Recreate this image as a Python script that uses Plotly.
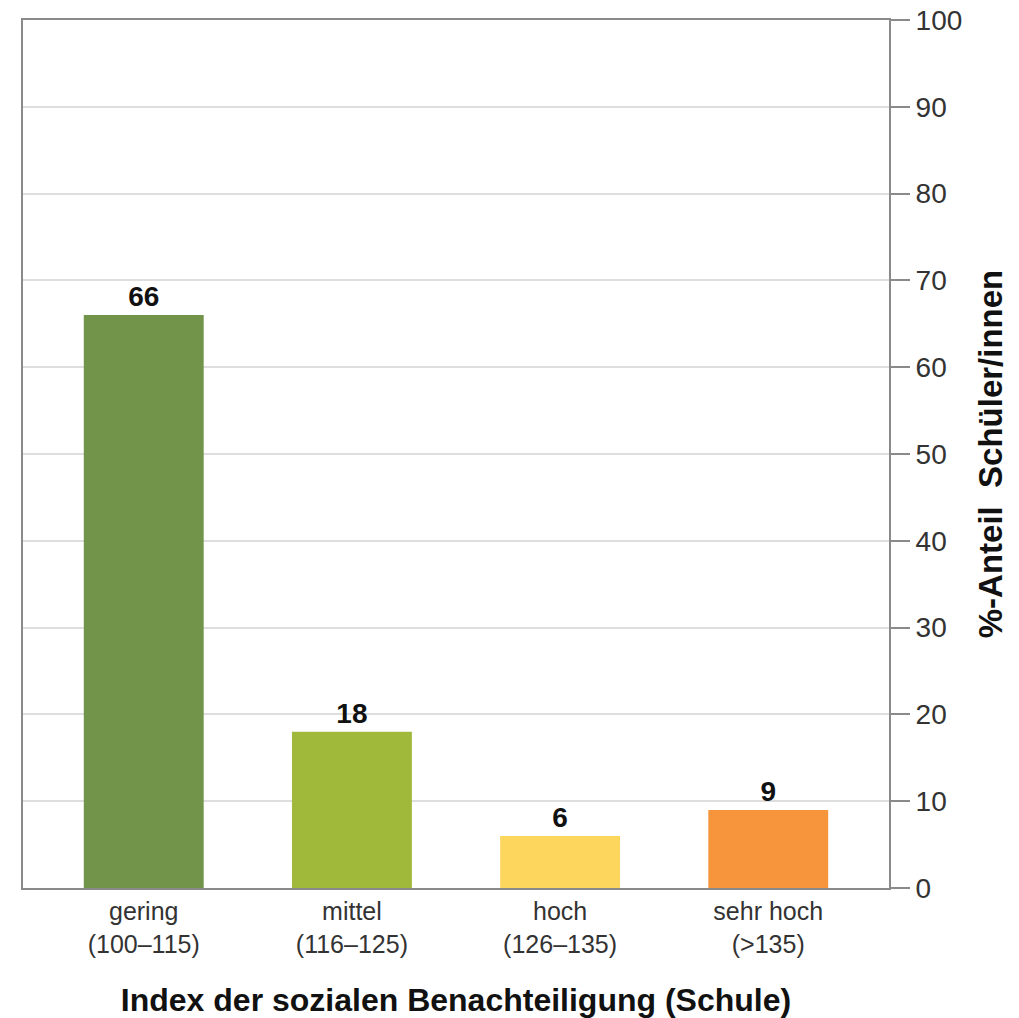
import plotly.graph_objects as go

categories = ["gering<br>(100–115)", "mittel<br>(116–125)", "hoch<br>(126–135)", "sehr hoch<br>(>135)"]
values = [66, 18, 6, 9]
bar_colors = ["#71944A", "#A0B93A", "#FDD65E", "#F7953D"]
y_ticks = [0, 10, 20, 30, 40, 50, 60, 70, 80, 90, 100]

font_family = "Liberation Sans, Arial, sans-serif"

fig = go.Figure(
    go.Bar(
        x=list(range(len(categories))),
        y=values,
        marker=dict(color=bar_colors, line=dict(width=0)),
        width=0.576,
        text=[str(v) for v in values],
        textposition="outside",
        textfont=dict(family=font_family, size=28, color="#111111", weight="bold"),
        cliponaxis=False,
    )
)

fig.update_layout(
    width=1019,
    height=1018,
    margin=dict(l=23, r=130, t=20, b=130),
    paper_bgcolor="white",
    plot_bgcolor="white",
    showlegend=False,
    font=dict(family=font_family, color="#333333"),
    xaxis=dict(
        range=[-0.58, 3.58],
        tickmode="array",
        tickvals=list(range(len(categories))),
        ticktext=categories,
        tickfont=dict(size=25, color="#333333"),
        ticks="",
        showgrid=False,
        showline=True,
        linecolor="#8a8a8a",
        linewidth=2,
        mirror=True,
        zeroline=False,
        automargin=False,
        title=dict(
            text="Index der sozialen Benachteiligung (Schule)",
            font=dict(size=32, color="#111111", weight="bold"),
            standoff=32,
        ),
    ),
    yaxis=dict(
        side="right",
        range=[0, 100],
        tickmode="array",
        tickvals=y_ticks,
        tickfont=dict(size=28, color="#333333"),
        ticks="outside",
        ticklen=19,
        tickwidth=2,
        tickcolor="#8a8a8a",
        showgrid=True,
        gridcolor="#dedede",
        gridwidth=2,
        showline=True,
        linecolor="#8a8a8a",
        linewidth=2,
        mirror=True,
        zeroline=False,
        automargin=False,
        title=dict(
            text="%-Anteil  Schüler/innen",
            font=dict(size=33, color="#111111", weight="bold"),
            standoff=18,
        ),
    ),
)

fig.write_html("out.html")
